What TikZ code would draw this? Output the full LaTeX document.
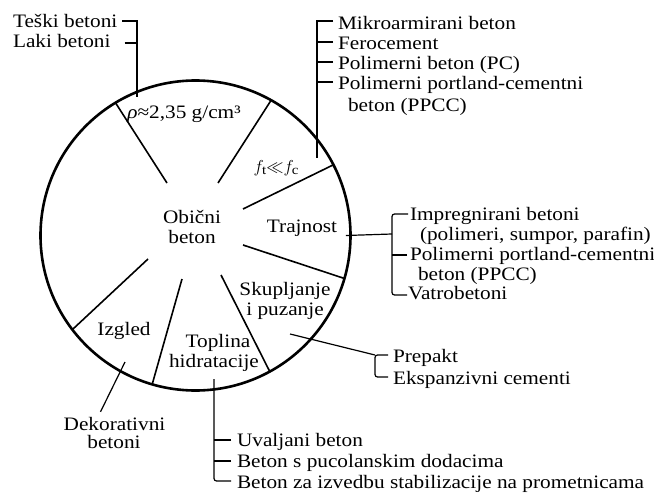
\documentclass[tikz,border=0pt]{standalone}
\usepackage{fontspec}
\setmainfont[FakeStretch=1.12]{Liberation Serif}
\usetikzlibrary{calc}
\begin{document}
\begin{tikzpicture}[x=1pt,y=-1pt,
  rim/.style={line width=2.6pt},
  spoke/.style={line width=1.6pt},
  lead/.style={line width=1.2pt},
  txt/.style={inner sep=0pt, outer sep=0pt, font=\fontsize{19}{20.5}\selectfont},
  lt/.style={txt, anchor=base west},
  ct/.style={txt, anchor=base}]
\useasboundingbox[fill=white] (0,0) rectangle (654,495);

% circle
\node[circle, draw, rim, minimum size=310pt, inner sep=0pt] (ring) at (195.5,235.5) {};

% spokes
\begin{scope}
\clip (ring.center) circle[radius=155pt];
\draw[spoke] (167,183) -- ($(167,183)!1.4!(115,102)$);
\draw[spoke] (218,183) -- ($(218,183)!1.4!(270,102)$);
\draw[spoke] (243,209) -- ($(243,209)!1.4!(333,165)$);
\draw[spoke] (243,245) -- ($(243,245)!1.4!(343,278)$);
\draw[spoke] (221,275) -- ($(221,275)!1.4!(270,372)$);
\draw[spoke] (182,279) -- ($(182,279)!1.4!(152,385)$);
\draw[spoke] (148,259) -- ($(148,259)!1.4!(73,329)$);
\end{scope}

% labels inside
\node[ct] (rho) at (184,118) {\textit{ρ}≈2,35 g/cm³};
\node[ct] (ft) at (276,172) {$f_{\mathrm t}{\ll}f_{\mathrm c}$};
\node[ct] (ob1) at (192,223) {Obični};
\node[ct] (ob2) at (192,243) {beton};
\node[ct] (traj) at (302,232) {Trajnost};
\node[ct] (sk1) at (285,295) {Skupljanje};
\node[ct] (sk2) at (285,315) {i puzanje};
\node[ct] (izg) at (124,335) {Izgled};
\node[ct] (top1) at (218,347) {Toplina};
\node[ct] (top2) at (214,367) {hidratacije};
\node[ct] (deko1) at (114.5,430) {Dekorativni};
\node[ct] (deko2) at (114,448) {betoni};

% outer texts
\node[lt] (teski) at (13,28) {Teški betoni};
\node[lt] (laki) at (13,48) {Laki betoni};
\node[lt] (mikro) at (338,30) {Mikroarmirani beton};
\node[lt] (fero) at (338,50) {Ferocement};
\node[lt] (pbet) at (338,70) {Polimerni beton (PC)};
\node[lt] (ppc1) at (338,90) {Polimerni portland-cementni};
\node[lt] (ppc1b) at (348,111) {beton (PPCC)};
\node[lt] (imp1) at (410,220) {Impregnirani betoni};
\node[lt] (imp2) at (420,240) {(polimeri, sumpor, parafin)};
\node[lt] (ppc2) at (410,260) {Polimerni portland-cementni};
\node[lt] (ppc2b) at (418,280) {beton (PPCC)};
\node[lt] (vatro) at (408,299) {Vatrobetoni};
\node[lt] (prepakt) at (393,362) {Prepakt};
\node[lt] (ekspan) at (393,384) {Ekspanzivni cementi};
\node[lt] (uval) at (237,446) {Uvaljani beton};
\node[lt] (puc) at (237,467) {Beton s pucolanskim dodacima};
\node[lt] (bzi) at (237,488) {Beton za izvedbu stabilizacije na prometnicama};

% connectors: Teski / Laki
\coordinate (tlend) at (137,97);
\draw[lead] ($(teski.base east)+(5,-7)$) -| (tlend);
\draw[lead] ($(laki.base east)+(14,-5)$) -- ([yshift=5pt]tlend |- laki.base east);

% top right group
\coordinate (trend) at (317,158);
\draw[lead] ($(mikro.base west)+(-5,-9)$) -| (trend);
\foreach \n in {fero,pbet,ppc1}
  \draw[lead] ($(\n.base west)+(-5,-8)$) -- ([yshift=8pt]trend |- \n.base west);

% Trajnost group
\coordinate (trj) at (392,234);
\draw[lead] ([xshift=-6pt]ring.east) -- (trj);
\draw[lead, rounded corners=2.5pt] ($(imp1.base west)+(-2,-6)$) -| ($(vatro.base west)+(-16,-4)$) -- ($(vatro.base west)+(-1,-4)$);
\draw[lead] ($(ppc2.base west)+(-3,-5)$) -- ++(-15,0);

% Prepakt group
\coordinate (pp) at (290,334);
\coordinate (ppj) at ($(prepakt.base west)+(-18,-7)$);
\draw[lead] (pp) -- (ppj);
\draw[lead, rounded corners=2.5pt] ($(prepakt.base west)+(-5,-7)$) -| ($(ekspan.base west)+(-18,-7)$) -- ($(ekspan.base west)+(-5,-7)$);

% Toplina group
\coordinate (tp) at (214,379);
\draw[lead, rounded corners=2.5pt] (tp) |- ($(bzi.base west)+(-6,-7)$);
\foreach \n in {uval,puc}
  \draw[lead] ($(\n.base west)+(-6,-6)$) -- ([yshift=6pt]tp |- \n.base west);

% Dekorativni
\coordinate (dk) at (125,362);
\draw[lead] (dk) -- ([xshift=-14pt,yshift=5pt]deko1.north);
\end{tikzpicture}
\end{document}
